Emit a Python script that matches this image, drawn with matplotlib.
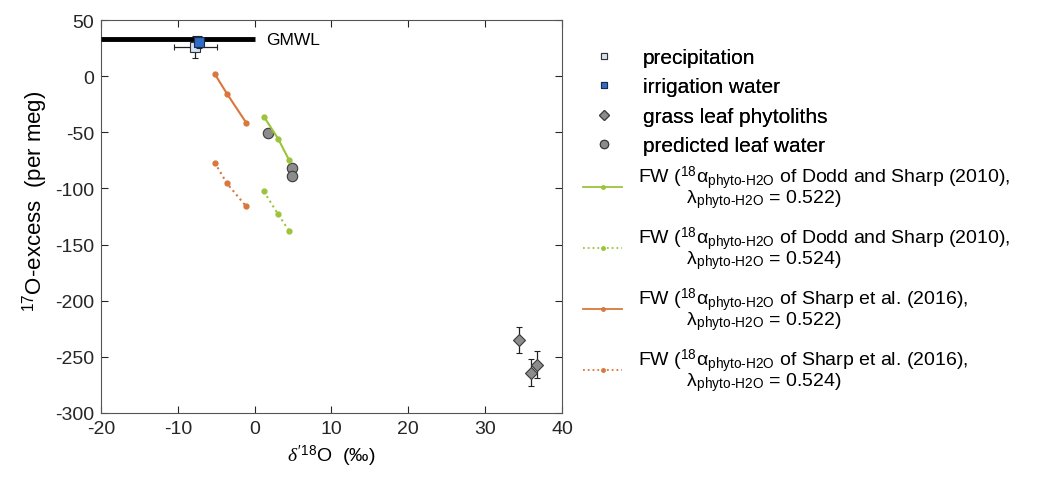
import matplotlib
matplotlib.use("Agg")
import matplotlib.pyplot as plt
from matplotlib.lines import Line2D
import numpy as np

plt.rcParams['font.family'] = ['Liberation Sans', 'DejaVu Sans']
plt.rcParams['mathtext.fontset'] = 'custom'
plt.rcParams['mathtext.rm'] = 'Liberation Sans'
plt.rcParams['mathtext.it'] = 'Liberation Serif:italic'
plt.rcParams['mathtext.bf'] = 'Liberation Sans:bold'
plt.rcParams['axes.unicode_minus'] = False

# global meteoric water line segment
gmwl_x = [-20, 0]
gmwl_y = [33, 33]

# source waters: d'18O, 17O-excess, errors
precip_x, precip_y, precip_xerr, precip_yerr = -7.7, 26, 2.8, 10
irrig_x, irrig_y, irrig_xerr, irrig_yerr = -7.3, 30.5, 0.5, 5

# phytoliths
phyto_x = [34.4, 36.8, 36.0]
phyto_y = [-235, -257, -264]
phyto_yerr = [12, 12, 12]

# predicted leaf water
leaf_x = [1.75, 4.9, 4.9]
leaf_y = [-51, -82, -88.5]

# forward model curves
dodd_x = [1.2, 3.05, 4.5]
dodd_522 = [-36, -55.7, -75]
dodd_524 = [-102.7, -123, -138]
sharp_x = [-5.2, -3.6, -1.1]
sharp_522 = [2, -15.7, -41.5]
sharp_524 = [-77, -95.6, -116]

green = '#9cc43a'
orange = '#d9773c'

fig = plt.figure(figsize=(10.38, 4.85), dpi=100)
ax = fig.add_axes([0.0973, 0.1464, 0.4441, 0.8103])

ax.plot(gmwl_x, gmwl_y, color='black', lw=3.5, solid_capstyle='butt', zorder=3)
ax.text(1.5, 33, 'GMWL', fontsize=12.5, va='center', ha='left')

ax.plot(sharp_x, sharp_522, '-', color=orange, lw=1.5, marker='o', ms=3.5, zorder=4)
ax.plot(sharp_x, sharp_524, ':', color=orange, lw=1.5, marker='o', ms=3.5, zorder=4)
ax.plot(dodd_x, dodd_522, '-', color=green, lw=1.5, marker='o', ms=3.5, zorder=4)
ax.plot(dodd_x, dodd_524, ':', color=green, lw=1.5, marker='o', ms=3.5, zorder=4)

ax.plot(leaf_x, leaf_y, 'o', ms=7.5, mfc='#8c8c8c', mec='#3a3a3a', mew=0.8, zorder=3.5)

ax.errorbar(phyto_x, phyto_y, yerr=phyto_yerr, fmt='D', ms=6.5, mfc='#8c8c8c',
            mec='#3a3a3a', mew=0.8, ecolor='#222222', elinewidth=0.9, capsize=2.5, zorder=5)

ax.errorbar(precip_x, precip_y, xerr=precip_xerr, yerr=precip_yerr, fmt='s', ms=7,
            mfc='#d3e3f5', mec='#333333', mew=0.8, ecolor='#222222', elinewidth=0.9,
            capsize=2.5, zorder=6)
ax.errorbar(irrig_x, irrig_y, xerr=irrig_xerr, yerr=irrig_yerr, fmt='s', ms=7,
            mfc='#2f6cc4', mec='#1a2a4a', mew=0.8, ecolor='#222222', elinewidth=0.9,
            capsize=2.5, zorder=7)

ax.set_xlim(-20, 40)
ax.set_ylim(-300, 50)
ax.set_xticks(np.arange(-20, 41, 10))
ax.set_yticks(np.arange(-300, 51, 50))
ax.tick_params(direction='in', length=5, width=0.8, colors='#262626', labelsize=14,
               top=True, right=True, pad=5)
for sp in ax.spines.values():
    sp.set_color('#555555')
    sp.set_linewidth(0.8)

ax.set_xlabel("$\\mathit{δ}'^{18}$O  (‰)", fontsize=14, labelpad=4)
ax.set_ylabel('$^{17}$O-excess  (per meg)', fontsize=16)
ax.yaxis.set_label_coords(-0.11, 0.54)

# legend: markers
mk_handles = [
    Line2D([], [], ls='none', marker='s', ms=5, mfc='#d3e3f5', mec='#333333', mew=0.8),
    Line2D([], [], ls='none', marker='s', ms=5, mfc='#2f6cc4', mec='#1a2a4a', mew=0.8),
    Line2D([], [], ls='none', marker='D', ms=5, mfc='#8c8c8c', mec='#3a3a3a', mew=0.8),
    Line2D([], [], ls='none', marker='o', ms=6, mfc='#8c8c8c', mec='#3a3a3a', mew=0.8),
]
mk_labels = ['precipitation', 'irrigation water', 'grass leaf phytoliths', 'predicted leaf water']
leg1 = fig.legend(mk_handles, mk_labels, loc='upper left', bbox_to_anchor=(0.562, 0.899),
                  frameon=False, fontsize=15, handlelength=2.0, handletextpad=0.84,
                  labelspacing=0.5, borderaxespad=0, borderpad=0)

sub = r'$_{\mathrm{phyto\text{-}H2O}}$'
ln_handles = [
    Line2D([], [], ls='-', color=green, lw=1.3, marker='o', ms=2.5),
    Line2D([], [], ls=':', color=green, lw=1.3, marker='o', ms=2.5),
    Line2D([], [], ls='-', color=orange, lw=1.3, marker='o', ms=2.5),
    Line2D([], [], ls=':', color=orange, lw=1.3, marker='o', ms=2.5),
]
ln_labels = [
    'FW ($^{18}$α' + sub + ' of Dodd and Sharp (2010),\n         λ' + sub + ' = 0.522)',
    'FW ($^{18}$α' + sub + ' of Dodd and Sharp (2010),\n         λ' + sub + ' = 0.524)',
    'FW ($^{18}$α' + sub + ' of Sharp et al. (2016),\n         λ' + sub + ' = 0.522)',
    'FW ($^{18}$α' + sub + ' of Sharp et al. (2016),\n         λ' + sub + ' = 0.524)',
]
leg2 = fig.legend(ln_handles, ln_labels, loc='upper left', bbox_to_anchor=(0.562, 0.66),
                  frameon=False, fontsize=14, handlelength=2.0, handletextpad=0.8,
                  labelspacing=0.75, borderaxespad=0, borderpad=0)
for t in leg2.get_texts():
    t.set_linespacing(0.76)
fig.add_artist(leg1)

fig.savefig('out.png', dpi=100)
